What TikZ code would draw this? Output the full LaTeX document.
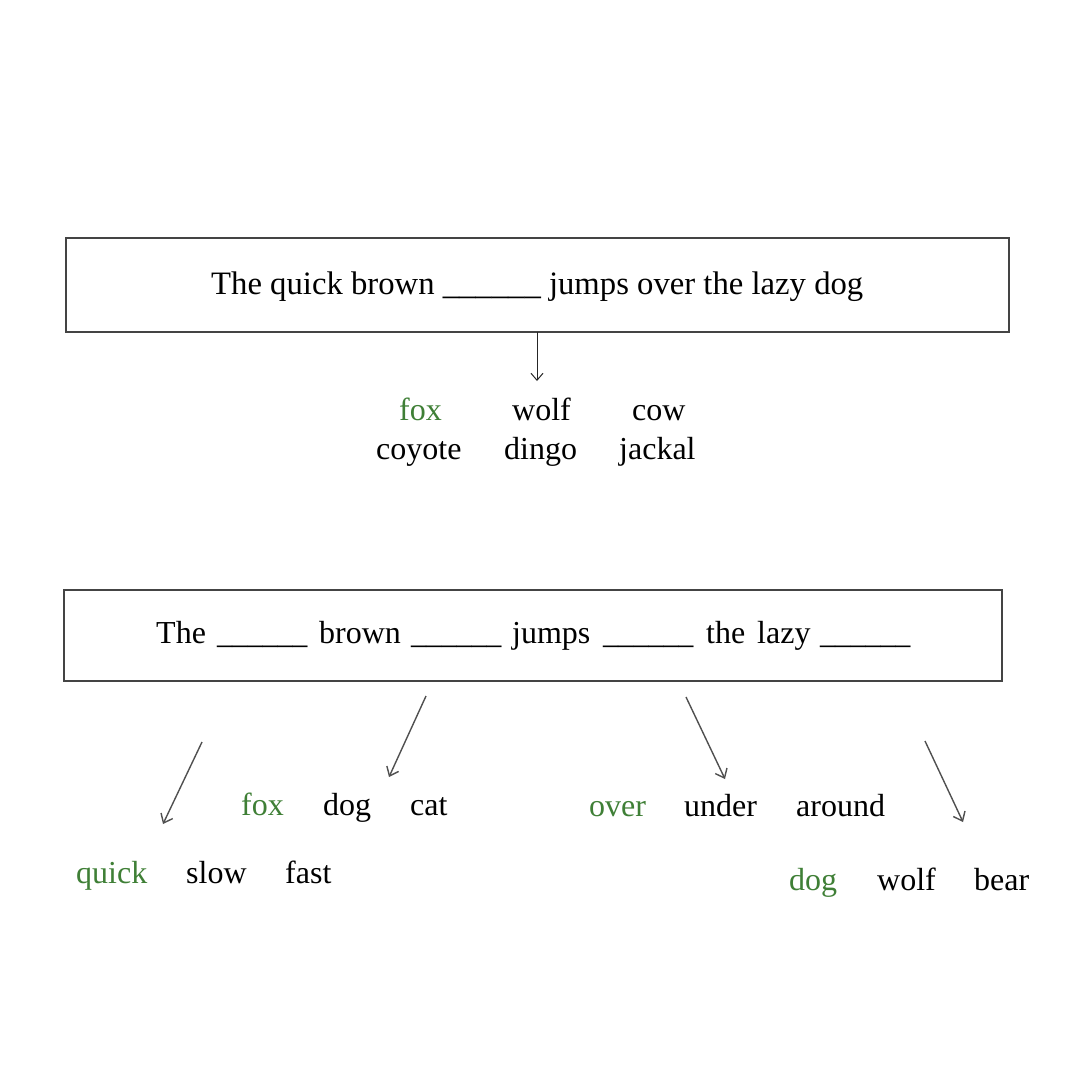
\documentclass[tikz,border=0pt]{standalone}
\usepackage{fontspec}
\usepackage{graphicx}
\setmainfont{Liberation Serif}
\usetikzlibrary{arrows.meta}
\definecolor{wgreen}{HTML}{3F7F36}
\definecolor{boxgray}{HTML}{444444}
\definecolor{arrgray}{HTML}{505050}
\newcommand{\blankfill}{\scalebox{0.94}[1]{\_\_\_\_\_\_}}
\tikzset{
  word/.style={anchor=base west,inner sep=0pt,font=\fontsize{32}{38}\selectfont},
  good/.style={word,text=wgreen},
  sentbox/.style={draw=boxgray,line width=1.2pt},
  pick/.style={draw=arrgray,line width=1.4pt,-{Straight Barb[length=8pt,width=13pt]}},
  toppick/.style={draw=black!85,line width=1pt,-{Straight Barb[length=7pt,width=12pt]}}
}
\begin{document}
\begin{tikzpicture}[x=1pt,y=-1pt]
\useasboundingbox (0,0) rectangle (1080,1080);
% top box
\draw[sentbox] (66,238) rectangle (1009,332);
\node[word,font=\fontsize{32.7}{38}\selectfont] (s1) at (211,294) {The quick brown \_\_\_\_\_\_ jumps over the lazy dog};
\coordinate (a0s) at (537,332);
\coordinate (a0e) at (537,381);
\draw[toppick] (a0s) -- (a0e);
\node[good] (t1) at (399,420) {fox};
\node[word] (t2) at (512,420) {wolf};
\node[word] (t3) at (632,420) {cow};
\node[word] (t4) at (376,459) {coyote};
\node[word] (t5) at (504,459) {dingo};
\node[word] (t6) at (619,459) {jackal};
% bottom box
\draw[sentbox] (64,590) rectangle (1002,681);
\node[word] (b1) at (156,643) {The};
\node[word] (b2) at (217,643) {\blankfill};
\node[word] (b3) at (319,643) {brown};
\node[word] (b4) at (411,643) {\blankfill};
\node[word] (b5) at (512,643) {jumps};
\node[word] (b6) at (603,643) {\blankfill};
\node[word] (b7) at (706,643) {the};
\node[word] (b8) at (757,643) {lazy};
\node[word] (b9) at (820,643) {\blankfill};
% arrows
\coordinate (p1s) at (202,742); \coordinate (p1e) at (163,824);
\coordinate (p2s) at (426,696); \coordinate (p2e) at (389,777);
\coordinate (p3s) at (686,697); \coordinate (p3e) at (725,779);
\coordinate (p4s) at (925,741); \coordinate (p4e) at (963,822);
\draw[pick] (p1s) -- (p1e);
\draw[pick] (p2s) -- (p2e);
\draw[pick] (p3s) -- (p3e);
\draw[pick] (p4s) -- (p4e);
% choices
\node[good] (c1) at (76,883) {quick};
\node[word] (c2) at (186,883) {slow};
\node[word] (c3) at (285,883) {fast};
\node[good] (d1) at (241,815) {fox};
\node[word] (d2) at (323,815) {dog};
\node[word] (d3) at (410,815) {cat};
\node[good] (e1) at (589,816) {over};
\node[word] (e2) at (684,816) {under};
\node[word] (e3) at (796,816) {around};
\node[good] (f1) at (789,890) {dog};
\node[word] (f2) at (877,890) {wolf};
\node[word] (f3) at (974,890) {bear};
\end{tikzpicture}
\end{document}
